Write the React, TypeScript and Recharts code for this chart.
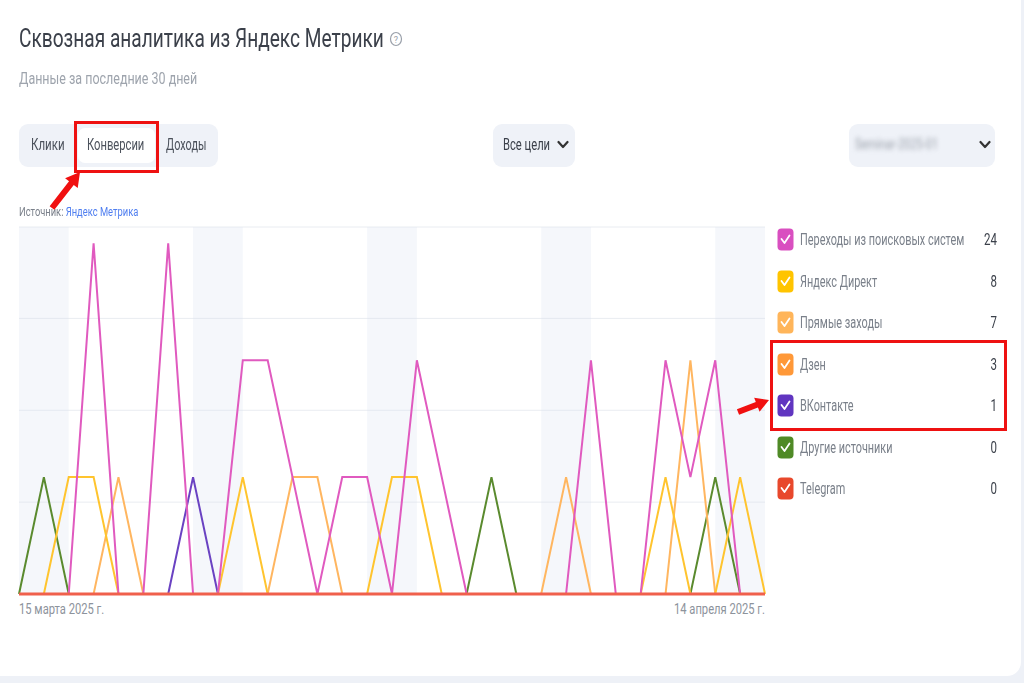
import React from 'react';
import { LineChart, Line, XAxis, YAxis, CartesianGrid, ReferenceArea } from 'recharts';

const dates = [
  '15.03', '16.03', '17.03', '18.03', '19.03', '20.03', '21.03', '22.03', '23.03', '24.03',
  '25.03', '26.03', '27.03', '28.03', '29.03', '30.03', '31.03', '01.04', '02.04', '03.04',
  '04.04', '05.04', '06.04', '07.04', '08.04', '09.04', '10.04', '11.04', '12.04', '13.04', '14.04',
];
const edgeLabels = ['15 марта 2025 г.', '14 апреля 2025 г.'];
const weekends = [
  ['15.03', '17.03'], ['22.03', '24.03'], ['29.03', '31.03'], ['05.04', '07.04'], ['12.04', '14.04'],
];

const searchVals = [0, 0, 0, 3, 0, 0, 3, 0, 0, 2, 2, 1, 0, 1, 1, 0, 2, 1, 0, 0, 0, 0, 0, 2, 0, 0, 2, 1, 2, 0, 0];
const directVals = [0, 0, 1, 1, 0, 0, 0, 0, 0, 1, 0, 0, 0, 0, 0, 1, 1, 0, 0, 0, 0, 0, 0, 0, 0, 0, 1, 0, 0, 1, 0];
const straightVals = [0, 0, 0, 0, 1, 0, 0, 0, 0, 0, 0, 1, 1, 0, 0, 0, 0, 0, 0, 0, 0, 0, 1, 0, 0, 0, 0, 2, 0, 0, 0];
const dzenVals = [0, 0, 0, 0, 0, 0, 0, 0, 0, 0, 0, 0, 0, 0, 0, 0, 0, 0, 0, 0, 0, 0, 0, 0, 0, 0, 0, 0, 0, 0, 0];
const vkVals = [0, 0, 0, 0, 0, 0, 0, 1, 0, 0, 0, 0, 0, 0, 0, 0, 0, 0, 0, 0, 0, 0, 0, 0, 0, 0, 0, 0, 0, 0, 0];
const otherVals = [0, 1, 0, 0, 0, 0, 0, 0, 0, 0, 0, 0, 0, 0, 0, 0, 0, 0, 0, 1, 0, 0, 0, 0, 0, 0, 0, 0, 1, 0, 0];
const telegramVals = [0, 0, 0, 0, 0, 0, 0, 0, 0, 0, 0, 0, 0, 0, 0, 0, 0, 0, 0, 0, 0, 0, 0, 0, 0, 0, 0, 0, 0, 0, 0];

const legendNames = ['Переходы из поисковых систем', 'Яндекс Директ', 'Прямые заходы', 'Дзен', 'ВКонтакте', 'Другие источники', 'Telegram'];
const legendTotals = [24, 8, 7, 3, 1, 0, 0];
const seriesKeys = ['search', 'direct', 'straight', 'dzen', 'vk', 'other', 'telegram'];
const lineColors = ['#e05abf', '#ffc42e', '#ffb660', '#ff9a3c', '#6a42c2', '#5a8a2e', '#f0604c'];
const boxColors = ['#d94fc0', '#ffc400', '#ffb55a', '#ff9838', '#6035c0', '#4f8a26', '#e8482c'];
const seriesVals = [searchVals, directVals, straightVals, dzenVals, vkVals, otherVals, telegramVals];

const gridTicks = [0, 0.786, 1.572, 2.358, 3.14];

const data = dates.map((d, i) => {
  const row: Record<string, any> = { date: d };
  seriesKeys.forEach((k, s) => { row[k] = seriesVals[s][i]; });
  return row;
});

const FONT = 'Roboto, "Noto Sans", sans-serif';
const SX = 0.78;

function T({ x, y, size, color, children, right = false, weight = 400, sx = SX }: any) {
  return (
    <div style={{
      position: 'absolute', top: y - size * 0.6, height: size * 1.2, lineHeight: `${size * 1.2}px`,
      ...(right ? { right: 1024 - x } : { left: x }),
      fontFamily: FONT, fontSize: size, color, fontWeight: weight, whiteSpace: 'nowrap',
      transform: `scaleX(${sx})`, transformOrigin: right ? 'right center' : 'left center',
    }}>{children}</div>
  );
}

function Arrow({ x1, y1, x2, y2, w = 5, hw = 14, hl = 14 }: any) {
  const dx = x2 - x1, dy = y2 - y1;
  const L = Math.sqrt(dx * dx + dy * dy);
  const ux = dx / L, uy = dy / L;
  const px = -uy, py = ux;
  const bx = x2 - ux * hl, by = y2 - uy * hl;
  const pts = [
    [x1 + px * w / 2, y1 + py * w / 2],
    [bx + px * w / 2, by + py * w / 2],
    [bx + px * hw / 2, by + py * hw / 2],
    [x2, y2],
    [bx - px * hw / 2, by - py * hw / 2],
    [bx - px * w / 2, by - py * w / 2],
    [x1 - px * w / 2, y1 - py * w / 2],
  ].map(p => p.join(',')).join(' ');
  return <polygon points={pts} fill="#f01010" />;
}

function Chevron({ x, y, color = '#333' }: any) {
  return (
    <svg style={{ position: 'absolute', left: x, top: y }} width="12" height="10">
      <path d="M1.5 2 L6 7 L10.5 2" stroke={color} strokeWidth="2.2" fill="none" strokeLinecap="round" strokeLinejoin="round" />
    </svg>
  );
}

const XTick = (props: any) => {
  const { x, y, payload } = props;
  const first = payload.value === dates[0];
  const label = first ? edgeLabels[0] : edgeLabels[1];
  return (
    <g transform={`translate(${x},${y + 12}) scale(0.8,1)`}>
      <text x={0} y={0} textAnchor={first ? 'start' : 'end'} fill="#8d939c" fontSize={14} fontFamily={FONT}>{label}</text>
    </g>
  );
};

export default function App() {
  return (
    <div style={{ position: 'absolute', left: 0, top: 0, width: 1024, height: 683, background: '#eef1f7', overflow: 'hidden' }}>
      <div style={{ position: 'absolute', left: -20, top: -20, width: 1041, height: 696, background: '#fff', borderRadius: 14 }} />

      <T x={19} y={39} size={26} color="#3b404a" sx={0.735}>Сквозная аналитика из Яндекс Метрики</T>
      <svg style={{ position: 'absolute', left: 389, top: 31 }} width="14" height="16">
        <ellipse cx="7" cy="8" rx="5.5" ry="6.5" stroke="#9aa0aa" strokeWidth="1.2" fill="none" />
        <text x="7" y="11.5" textAnchor="middle" fontSize="9" fill="#9aa0aa" fontFamily={FONT}>?</text>
      </svg>
      <T x={19} y={79} size={16} color="#9ea4ad">Данные за последние 30 дней</T>

      {/* tabs */}
      <div style={{ position: 'absolute', left: 19, top: 124, width: 199, height: 43, background: '#eff2f8', borderRadius: 9 }} />
      <div style={{ position: 'absolute', left: 78, top: 128, width: 77, height: 35, background: '#fff', borderRadius: 7 }} />
      <T x={31} y={145} size={16} color="#4b515b" sx={0.72}>Клики</T>
      <T x={87} y={145} size={16} color="#4b515b" sx={0.7}>Конверсии</T>
      <T x={166} y={145} size={16} color="#4b515b" sx={0.68}>Доходы</T>
      <div style={{ position: 'absolute', left: 74, top: 121, width: 79, height: 46, border: '3px solid #ee1111' }} />

      <div style={{ position: 'absolute', left: 493, top: 124, width: 82, height: 43, background: '#eff2f8', borderRadius: 9 }} />
      <T x={503} y={145} size={16} color="#3b404a" sx={0.7}>Все цели</T>
      <Chevron x={557} y={140} />

      <div style={{ position: 'absolute', left: 849, top: 124, width: 146, height: 43, background: '#eff2f8', borderRadius: 9 }} />
      <div style={{ position: 'absolute', left: 855, top: 136, filter: 'blur(2.5px)', fontFamily: FONT, fontSize: 14, color: '#9aa0aa', whiteSpace: 'nowrap', transform: 'scaleX(0.78)', transformOrigin: 'left center' }}>
        Seminar-2025-01
      </div>
      <Chevron x={979} y={140} />

      <div style={{
        position: 'absolute', left: 19, top: 204, fontFamily: FONT, fontSize: 12, whiteSpace: 'nowrap',
        transform: `scaleX(${SX})`, transformOrigin: 'left center', lineHeight: '16px',
      }}>
        <span style={{ color: '#7b818b' }}>Источник: </span>
        <span style={{ color: '#4f7ef0' }}>Яндекс Метрика</span>
      </div>

      <div style={{ position: 'absolute', left: 0, top: 200 }}>
        <LineChart width={780} height={430} data={data} margin={{ top: 27, right: 15, left: 19, bottom: 0 }}>
          <CartesianGrid vertical={false} stroke="#e9ecf1" strokeWidth={1} />
          {weekends.map((w, i) => (
            <ReferenceArea key={i} x1={w[0]} x2={w[1]} fill="#dbe3ef" fillOpacity={0.28} stroke="none" ifOverflow="visible" />
          ))}
          <XAxis dataKey="date" axisLine={false} tickLine={false} ticks={[dates[0], dates[30]]} interval={0} tick={<XTick />} height={36} />
          <YAxis hide domain={[0, 3.14]} ticks={gridTicks} />
          {[5, 4, 3, 2, 1, 0, 6].map(s => (
            <Line key={seriesKeys[s]} type="linear" dataKey={seriesKeys[s]} name={legendNames[s]}
              stroke={lineColors[s]} strokeWidth={s === 6 ? 3 : 2} dot={false} activeDot={false}
              isAnimationActive={false} />
          ))}
        </LineChart>
      </div>

      {/* legend */}
      {legendNames.map((n, i) => {
        const cy = 240 + i * 41.5;
        return (
          <React.Fragment key={n}>
            <svg style={{ position: 'absolute', left: 777, top: cy - 12 }} width="17" height="23">
              <rect x="0.5" y="0.5" width="16" height="22" rx="4" fill={boxColors[i]} />
              <path d="M4.5 11 L7.5 15 L12.5 7.5" stroke="#fff" strokeWidth="1.8" fill="none" strokeLinecap="round" strokeLinejoin="round" />
            </svg>
            <T x={800} y={cy} size={16} color="#7a808a" sx={0.68}>{n}</T>
            <T x={997} y={cy} size={16} color="#3b404a" right sx={0.72}>{legendTotals[i]}</T>
          </React.Fragment>
        );
      })}
      <div style={{ position: 'absolute', left: 770, top: 340, width: 231, height: 85, border: '3px solid #ee1111' }} />

      <svg style={{ position: 'absolute', left: 0, top: 0 }} width="1024" height="683">
        <Arrow x1={52} y1={208} x2={80} y2={172} w={6} hw={16} hl={14} />
        <Arrow x1={738} y1={412} x2={769} y2={400} w={6} hw={15} hl={13} />
      </svg>
    </div>
  );
}
